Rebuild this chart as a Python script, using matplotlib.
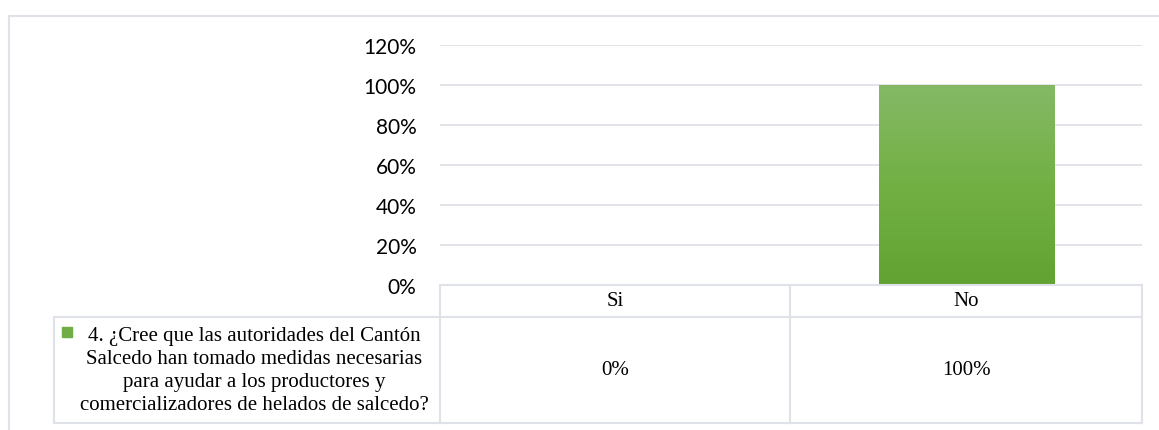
import numpy as np
import matplotlib.pyplot as plt
from matplotlib.lines import Line2D
from matplotlib.colors import LinearSegmentedColormap

categories = ['Si', 'No']
values = [0.0, 1.0]
value_labels = ['0%', '100%']
series_name = ('4. ¿Cree que las autoridades del Cantón\n'
               'Salcedo han tomado medidas necesarias\n'
               'para ayudar a los productores y\n'
               'comercializadores de helados de salcedo?')
yticks = [0, 0.2, 0.4, 0.6, 0.8, 1.0, 1.2]

W, H = 1159, 431
grid_col = '#dfe2e8'
fig = plt.figure(figsize=(W / 100, H / 100), dpi=100)


def fx(px):
    return px / W


def fy(py):
    return 1 - py / H


# plot area
ax = fig.add_axes([fx(440), fy(286), fx(1142) - fx(440), fy(46) - fy(286)])
x = np.arange(len(categories))
bars = ax.bar(x, values, width=0.5, color='#70ad47', zorder=2)
ax.set_yticks(yticks)
ax.set_yticklabels([f'{int(round(t * 100))}%' for t in yticks],
                   fontfamily='Lato', fontsize=15, color='#000000')
ax.tick_params(axis='y', length=0, pad=17)
ax.set_xticks([])
for s in ax.spines.values():
    s.set_visible(False)
ax.grid(axis='y', color=grid_col, linewidth=1.3, zorder=0)

# gradient fill on bars
cmap = LinearSegmentedColormap.from_list('g', ['#62a232', '#72b044', '#85b966'])
grad = np.linspace(0, 1, 256).reshape(-1, 1)
for b in bars:
    if b.get_height() <= 0:
        continue
    im = ax.imshow(grad, cmap=cmap, origin='lower', aspect='auto', zorder=3,
                   extent=[b.get_x(), b.get_x() + b.get_width(), 0, b.get_height()])
    im.set_clip_path(b)
ax.set_ylim(0, 1.2)
ax.set_xlim(-0.5, len(categories) - 0.5)

# outer chart border
for xs, ys in [([9, W], [17, 17]), ([9, 9], [17, H])]:
    fig.add_artist(Line2D([fx(v) for v in xs], [fy(v) for v in ys],
                          color=grid_col, linewidth=1.5))

# data table lines
col_edges = [440, 790, 1142]
lines = [
    ([440, 1142], [286, 286]),
    ([54, 1142], [318, 318]),
    ([54, 1142], [424, 424]),
    ([54, 54], [318, 424]),
]
for c in col_edges:
    lines.append(([c, c], [286, 424]))
for xs, ys in lines:
    fig.add_artist(Line2D([fx(v) for v in xs], [fy(v) for v in ys],
                          color=grid_col, linewidth=1.5))

serif = 'Liberation Serif'
for i, cat in enumerate(categories):
    cx = (col_edges[i] + col_edges[i + 1]) / 2
    fig.text(fx(cx), fy(302), cat, ha='center', va='center',
             fontfamily=serif, fontsize=15)
    fig.text(fx(cx), fy(371), value_labels[i], ha='center', va='center',
             fontfamily=serif, fontsize=15)

fig.patches.append(plt.Rectangle((fx(62), fy(338)), fx(10), fy(328) - fy(338),
                                 transform=fig.transFigure, color='#70ad47'))
fig.text(fx(254), fy(371), series_name, ha='center', va='center',
         fontfamily=serif, fontsize=15, linespacing=1.3)

fig.savefig('out.png', dpi=100)
